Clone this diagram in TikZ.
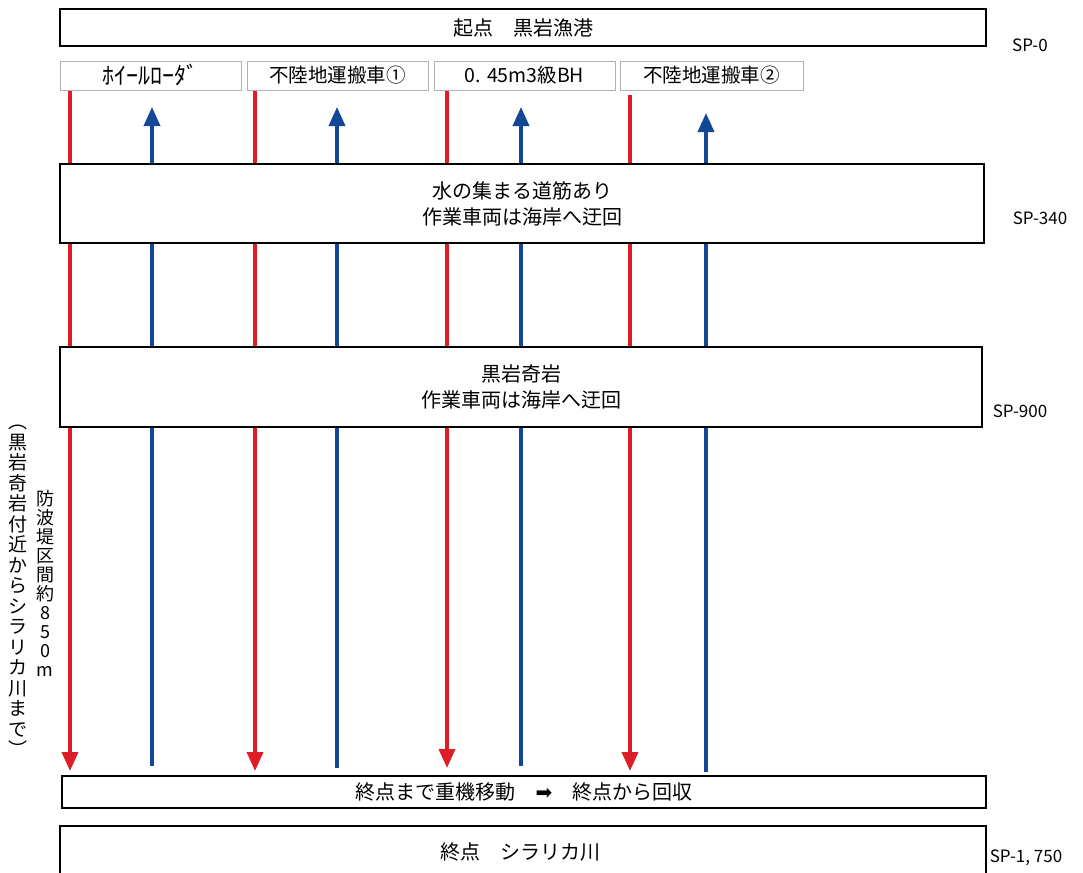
\documentclass[tikz,border=0pt]{standalone}
\usepackage{fontspec}
\setmainfont{Noto Sans CJK JP}
\newfontfamily\dejavu{DejaVu Sans}
\usetikzlibrary{arrows.meta}
\definecolor{redl}{RGB}{222,30,38}
\definecolor{bluel}{RGB}{18,72,150}
\pgfdeclarelayer{bg}
\pgfsetlayers{bg,main}
\begin{document}
\begin{tikzpicture}[x=1pt,y=-1pt,
  bigbox/.style={draw=black, line width=1.4pt, fill=white, inner sep=0pt, font=\fontsize{20}{26}\selectfont, align=center},
  lblbox/.style={draw=black!30, line width=0.8pt, fill=white, inner sep=0pt, minimum height=29, font=\fontsize{19.5}{20}\selectfont},
  splabel/.style={font=\fontsize{17}{18}\selectfont, inner sep=0pt},
  vtext/.style={align=center, inner sep=0pt},
  redarrow/.style={draw=redl, line width=3.6pt, -{Triangle[width=16pt,length=19pt]}},
  bluearrow/.style={draw=bluel, line width=3.6pt, -{Triangle[width=16pt,length=19pt]}}
]
\useasboundingbox (0,0) rectangle (1083,872);

% main boxes
\node[bigbox, minimum width=926, minimum height=37] (start) at (523,27.5) {起点　黒岩漁港};
\node[bigbox, minimum width=924, minimum height=79] (boxA) at (522,203.5) {水の集まる道筋あり\\作業車両は海岸へ迂回};
\node[bigbox, minimum width=922, minimum height=80] (boxB) at (521,387) {黒岩奇岩\\作業車両は海岸へ迂回};
\node[bigbox, minimum width=924, minimum height=32] (move) at (524,792) {終点まで重機移動　{\dejavu ➡}　終点から回収};
\node[bigbox, minimum width=926, minimum height=52] (goal) at (523,852) {};
\node[font=\fontsize{20}{22}\selectfont, inner sep=0pt] (goaltext) at (520,852) {終点　シラリカ川};

% label boxes
\node[lblbox, minimum width=181, font=\fontsize{24}{24}\selectfont] (l1) at (150.5,75.5) {ﾎｲｰﾙﾛｰﾀﾞ};
\node[lblbox, minimum width=181] (l2) at (337.5,75.5) {不陸地運搬車①};
\node[lblbox, minimum width=181] (l3) at (524.5,75.5) {0. 45m3級BH};
\node[lblbox, minimum width=183] (l4) at (711.5,75.5) {不陸地運搬車②};

% SP labels
\node[splabel] (sp0) at (1030,45) {SP-0};
\node[splabel] (sp340) at (1040,218) {SP-340};
\node[splabel] (sp900) at (1020,411) {SP-900};
\node[splabel] (sp1750) at (1026,858) {SP-1, 750};

% vertical texts
\node[vtext, font=\fontsize{18}{19}\selectfont] (vt1) at (45,583)
  {防\\波\\堤\\区\\間\\約\\8\\5\\0\\m};
\node[vtext, font=\fontsize{19}{20.5}\selectfont] (vt2) at (18,591)
  {︵\\黒\\岩\\奇\\岩\\付\\近\\か\\ら\\シ\\ラ\\リ\\カ\\川\\ま\\で\\︶};

% line end points
\coordinate (r1s) at (70,90);   \coordinate (r1e) at (70,771);
\coordinate (r2s) at (255,90);  \coordinate (r2e) at (255,771);
\coordinate (r3s) at (447,90);  \coordinate (r3e) at (447,768);
\coordinate (r4s) at (630,95);  \coordinate (r4e) at (630,771);
\coordinate (b1s) at (152,766); \coordinate (b1e) at (152,107);
\coordinate (b2s) at (337,768); \coordinate (b2e) at (337,107);
\coordinate (b3s) at (521,766); \coordinate (b3e) at (521,107);
\coordinate (b4s) at (706,772); \coordinate (b4e) at (706,113);

\begin{pgfonlayer}{bg}
  \fill[white] (0,0) rectangle (1083,872);
  \foreach \i in {1,2,3,4}{
    \draw[redarrow] (r\i s) -- (r\i e);
    \draw[bluearrow] (b\i s) -- (b\i e);
  }
\end{pgfonlayer}
\end{tikzpicture}
\end{document}
